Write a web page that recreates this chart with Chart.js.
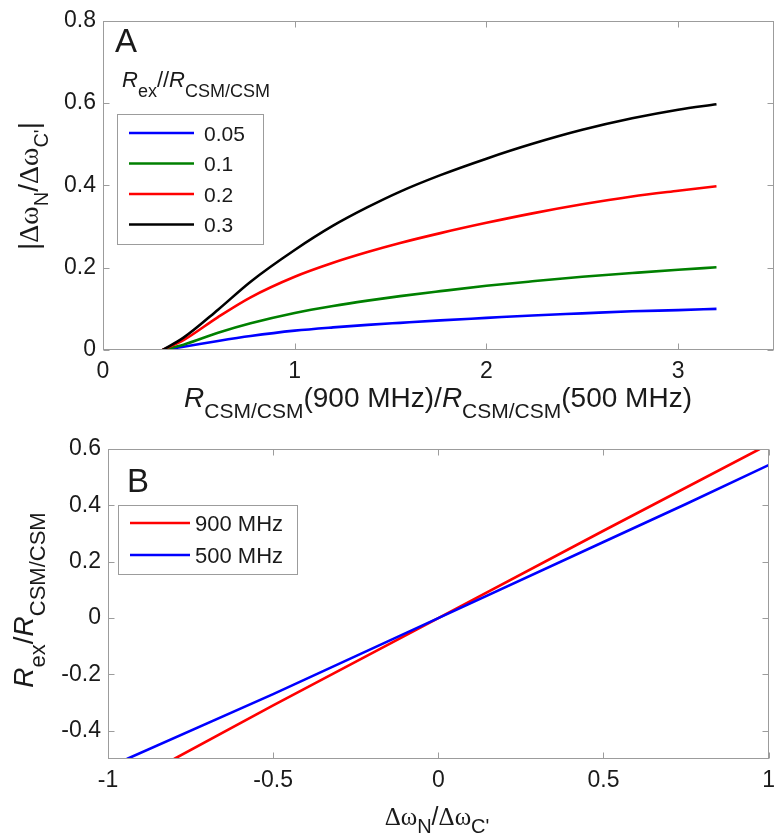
<!DOCTYPE html>
<html>
<head>
<meta charset="utf-8">
<script src="https://cdn.jsdelivr.net/npm/chart.js@4.4.1/dist/chart.umd.min.js"></script>
<style>
  body { margin: 0; background: #fff; }
  #wrap { position: relative; width: 783px; height: 833px; }
  canvas { position: absolute; left: 0; }
  #topChart { top: 0; }
  #botChart { top: 420px; }
</style>
</head>
<body>
<div id="wrap">
  <canvas id="topChart" width="783" height="440"></canvas>
  <canvas id="botChart" width="783" height="413"></canvas>
</div>
<script>
// panel A: |dwN/dwC'| against R(900)/R(500)
let ratioX = [0.31, 0.42, 0.6, 0.77, 1.0, 1.2, 1.38, 1.55, 1.76, 2.0, 2.24, 2.5, 2.76, 3.0, 3.2];
let curve005 = [0, 0.008, 0.022, 0.034, 0.047, 0.055, 0.061, 0.066, 0.072, 0.078, 0.084, 0.089, 0.094, 0.097, 0.100];
let curve01  = [0, 0.013, 0.042, 0.065, 0.090, 0.107, 0.120, 0.131, 0.143, 0.156, 0.167, 0.178, 0.187, 0.195, 0.201];
let curve02  = [0, 0.024, 0.080, 0.128, 0.178, 0.212, 0.238, 0.260, 0.284, 0.309, 0.332, 0.354, 0.373, 0.387, 0.398];
let curve03  = [0, 0.030, 0.098, 0.166, 0.243, 0.302, 0.347, 0.385, 0.425, 0.465, 0.501, 0.535, 0.563, 0.584, 0.597];
let labelsA = ['0.05', '0.1', '0.2', '0.3'];
let colorsA = ['#0000ff', '#008000', '#ff0000', '#000000'];
let ticksAx = [0, 1, 2, 3];
let ticksAy = [0, 0.2, 0.4, 0.6, 0.8];

// panel B: Rex/R vs dwN/dwC'
let x900 = [-0.8, -0.5, 0, 0.5, 0.973];
let y900 = [-0.5, -0.31, 0, 0.31, 0.6];
let x500 = [-0.943, -0.5, 0, 0.5, 0.75, 1.0];
let y500 = [-0.5, -0.27, 0, 0.27, 0.405, 0.543];
let labelsB = ['900 MHz', '500 MHz'];
let colorsB = ['#ff0000', '#0000ff'];
let ticksBx = [-1, -0.5, 0, 0.5, 1];
let ticksBy = [-0.4, -0.2, 0, 0.2, 0.4, 0.6];

const SANS = '"Liberation Sans", Arial, sans-serif';
const SERIF = '"Liberation Serif", "Times New Roman", serif';
const AXIS_GRAY = '#9c9c9c';
const TEXT = '#1a1a1a';

function fnt(size, style, fam) {
  return (style ? style + ' ' : '') + size + 'px ' + (fam || SANS);
}

// draw a run of text pieces (subscripts via dy)
function rich(ctx, parts, x, y, align) {
  let w = 0;
  parts.forEach(p => { ctx.font = p.f; p.w = ctx.measureText(p.t).width; w += p.w; });
  let cx = align === 'left' ? x : x - w / 2;
  ctx.textAlign = 'left';
  ctx.textBaseline = 'alphabetic';
  parts.forEach(p => { ctx.font = p.f; ctx.fillText(p.t, cx, y + (p.dy || 0)); cx += p.w; });
}

function richUp(ctx, parts, x, y) {
  ctx.save();
  ctx.translate(x, y);
  ctx.rotate(-Math.PI / 2);
  rich(ctx, parts, 0, 0, 'center');
  ctx.restore();
}

function toPoints(xs, ys) {
  return xs.map((v, i) => ({ x: v, y: ys[i] }));
}

// box + inward ticks like matlab, then the extra texts
function frame(decor) {
  return {
    id: 'frame',
    afterDraw(chart) {
      const { ctx, chartArea: a, scales } = chart;
      const L = Math.round(a.left) + 0.5, R = Math.round(a.right) - 0.5;
      const T = Math.round(a.top) + 0.5, B = Math.round(a.bottom) - 0.5;
      ctx.save();
      ctx.strokeStyle = AXIS_GRAY;
      ctx.lineWidth = 1;
      ctx.strokeRect(L, T, R - L, B - T);
      ctx.beginPath();
      scales.x.ticks.forEach(t => {
        const px = Math.round(scales.x.getPixelForValue(t.value)) + 0.5;
        ctx.moveTo(px, B); ctx.lineTo(px, B - 6);
        ctx.moveTo(px, T); ctx.lineTo(px, T + 6);
      });
      scales.y.ticks.forEach(t => {
        const py = Math.round(scales.y.getPixelForValue(t.value)) + 0.5;
        ctx.moveTo(L, py); ctx.lineTo(L + 6, py);
        ctx.moveTo(R, py); ctx.lineTo(R - 6, py);
      });
      ctx.stroke();
      ctx.fillStyle = TEXT;
      decor(ctx, chart);
      ctx.restore();
    }
  };
}

function legendBox(ctx, chart, box, rows, lineX, textX, size) {
  ctx.fillStyle = '#fff';
  ctx.fillRect(box[0], box[1], box[2], box[3]);
  ctx.strokeStyle = AXIS_GRAY;
  ctx.lineWidth = 1;
  ctx.strokeRect(box[0] + 0.5, box[1] + 0.5, box[2], box[3]);
  chart.data.datasets.forEach((ds, i) => {
    const yy = rows[i];
    ctx.strokeStyle = ds.borderColor;
    ctx.lineWidth = 2.5;
    ctx.beginPath();
    ctx.moveTo(lineX[0], yy); ctx.lineTo(lineX[1], yy);
    ctx.stroke();
    ctx.fillStyle = TEXT;
    ctx.font = fnt(size);
    ctx.textAlign = 'left';
    ctx.textBaseline = 'middle';
    ctx.fillText(ds.label, textX, yy + 2);
  });
}

function baseScales(xmin, xmax, xt, ymin, ymax, yt, yw, xh) {
  const tickFont = { family: SANS, size: 23 };
  return {
    x: {
      type: 'linear', min: xmin, max: xmax,
      afterBuildTicks: s => { s.ticks = xt.map(v => ({ value: v })); },
      afterFit: s => { s.height = xh; },
      grid: { display: false, drawTicks: false },
      border: { display: false },
      ticks: { font: tickFont, color: TEXT, padding: 8, maxRotation: 0, callback: v => String(v) }
    },
    y: {
      type: 'linear', min: ymin, max: ymax,
      afterBuildTicks: s => { s.ticks = yt.map(v => ({ value: v })); },
      afterFit: s => { s.width = yw; },
      grid: { display: false, drawTicks: false },
      border: { display: false },
      ticks: { font: tickFont, color: TEXT, padding: 7, callback: v => String(v) }
    }
  };
}

const datasetsA = [curve005, curve01, curve02, curve03].map((c, i) => ({
  label: labelsA[i],
  data: toPoints(ratioX, c),
  borderColor: colorsA[i],
  borderWidth: 2.6,
  pointRadius: 0,
  cubicInterpolationMode: 'monotone',
  order: 4 - i
}));

new Chart(document.getElementById('topChart'), {
  type: 'line',
  data: { datasets: datasetsA },
  options: {
    responsive: false,
    animation: false,
    layout: { padding: { top: 19, right: 9, left: 0, bottom: 0 } },
    scales: baseScales(0, 3.5, ticksAx, 0, 0.8, ticksAy, 103, 90),
    plugins: { legend: { display: false }, tooltip: { enabled: false } }
  },
  plugins: [frame((ctx, chart) => {
    ctx.font = fnt(33);
    ctx.textAlign = 'left';
    ctx.textBaseline = 'alphabetic';
    ctx.fillText('A', 115, 52);
    rich(ctx, [
      { t: 'R', f: fnt(22, 'italic') },
      { t: 'ex', f: fnt(18), dy: 10 },
      { t: '//', f: fnt(22) },
      { t: 'R', f: fnt(22, 'italic') },
      { t: 'CSM/CSM', f: fnt(18), dy: 10 }
    ], 122, 87, 'left');
    legendBox(ctx, chart, [117, 114, 146, 130], [133, 163.5, 194, 224.5], [129, 194], 204, 21);
    ctx.fillStyle = TEXT;
    rich(ctx, [
      { t: 'R', f: fnt(28, 'italic') },
      { t: 'CSM/CSM', f: fnt(21), dy: 11 },
      { t: '(900 MHz)/', f: fnt(28) },
      { t: 'R', f: fnt(28, 'italic') },
      { t: 'CSM/CSM', f: fnt(21), dy: 11 },
      { t: '(500 MHz)', f: fnt(28) }
    ], 438, 407);
    richUp(ctx, [
      { t: '|', f: fnt(28) },
      { t: 'Δω', f: fnt(28, '', SERIF) },
      { t: 'N', f: fnt(20), dy: 10 },
      { t: '/', f: fnt(28) },
      { t: 'Δω', f: fnt(28, '', SERIF) },
      { t: "C'", f: fnt(20), dy: 10 },
      { t: '|', f: fnt(28) }
    ], 38, 186);
  })]
});

const datasetsB = [[x900, y900], [x500, y500]].map((s, i) => ({
  label: labelsB[i],
  data: toPoints(s[0], s[1]),
  borderColor: colorsB[i],
  borderWidth: 2.6,
  pointRadius: 0,
  tension: 0,
  order: 1 - i
}));

new Chart(document.getElementById('botChart'), {
  type: 'line',
  data: { datasets: datasetsB },
  options: {
    responsive: false,
    animation: false,
    layout: { padding: { top: 29, right: 6, left: 0, bottom: 0 } },
    scales: baseScales(-1, 1, ticksBx, -0.5, 0.6, ticksBy, 108, 74),
    plugins: { legend: { display: false }, tooltip: { enabled: false } }
  },
  plugins: [frame((ctx, chart) => {
    ctx.font = fnt(33);
    ctx.textAlign = 'left';
    ctx.textBaseline = 'alphabetic';
    ctx.fillText('B', 127, 72);
    legendBox(ctx, chart, [118, 85, 179, 69], [103, 135], [130, 190], 195, 22);
    ctx.fillStyle = TEXT;
    rich(ctx, [
      { t: 'Δω', f: fnt(25, '', SERIF) },
      { t: 'N', f: fnt(20), dy: 8 },
      { t: '/', f: fnt(25) },
      { t: 'Δω', f: fnt(25, '', SERIF) },
      { t: "C'", f: fnt(20), dy: 8 }
    ], 437, 405);
    richUp(ctx, [
      { t: 'R', f: fnt(28, 'italic') },
      { t: 'ex', f: fnt(22), dy: 12 },
      { t: '/', f: fnt(28) },
      { t: 'R', f: fnt(28, 'italic') },
      { t: 'CSM/CSM', f: fnt(22), dy: 12 }
    ], 33, 180);
  })]
});
</script>
</body>
</html>
